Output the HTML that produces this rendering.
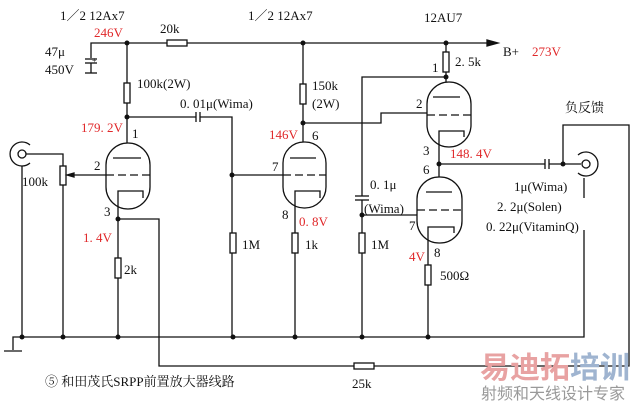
<!DOCTYPE html>
<html><head><meta charset="utf-8"><style>
html,body{margin:0;padding:0;background:#fff;}
svg{display:block}
text{font-family:"Liberation Serif","Noto Serif CJK SC",serif;font-size:13px;fill:#111}
.r{fill:#e0282a}
</style></head><body>
<svg width="635" height="402" viewBox="0 0 635 402" xmlns="http://www.w3.org/2000/svg">
<g stroke="#111" stroke-width="1.3" fill="none">
<!-- top rail -->
<polyline points="91,58 91,43 490,43"/>
<polygon points="498,43 487,40 487,46" fill="#111"/>
<line x1="85" y1="59" x2="97" y2="59"/><line x1="85" y1="63" x2="97" y2="63"/>
<line x1="91" y1="63" x2="91" y2="73"/><line x1="85" y1="73" x2="97" y2="73"/>
<rect x="167" y="40" width="20" height="6" fill="#fff"/>
<!-- tube1 anode -->
<line x1="127" y1="43" x2="127" y2="158"/>
<rect x="124" y="83" width="6" height="20" fill="#fff"/>
<polyline points="127,117 196,117"/><polyline points="200,117 232,117 232,337"/>
<line x1="196" y1="112" x2="196" y2="122"/><line x1="200" y1="112" x2="200" y2="122"/>
<rect x="106" y="143" width="44" height="66" rx="22" fill="#fff"/>
<line x1="113" y1="158" x2="141" y2="158"/>
<line x1="106" y1="175" x2="150" y2="175" stroke-dasharray="8,4"/>
<polyline points="118,219 118,191 143,191 143,198"/>
<polyline points="118,219 159,219 159,366 629,366 629,125 563,125 563,164"/>
<line x1="118" y1="219" x2="118" y2="337"/>
<rect x="115" y="258" width="6" height="20" fill="#fff"/>
<!-- input -->
<circle cx="22" cy="154" r="4"/>
<path d="M30,145 A12,12 0 1 0 30,163"/>
<polyline points="26,154 63,154 63,337"/>
<rect x="60" y="166" width="6" height="19" fill="#fff"/>
<line x1="70" y1="175" x2="106" y2="175"/>
<polygon points="67,175 74,173 74,177" fill="#111"/>
<line x1="22" y1="166" x2="22" y2="337"/>
<!-- ground -->
<polyline points="13,350 13,337 584,337 584,230"/>
<line x1="584" y1="198" x2="584" y2="178"/>
<line x1="4" y1="351" x2="22" y2="351"/>
<!-- tube2 -->
<line x1="303" y1="43" x2="303" y2="158"/>
<rect x="300" y="84" width="6" height="20" fill="#fff"/>
<polyline points="303,123 381,123 381,113 430,113"/>
<line x1="232" y1="175" x2="283" y2="175"/>
<rect x="283" y="142" width="43" height="66" rx="21" fill="#fff"/>
<line x1="290" y1="158" x2="316" y2="158"/>
<line x1="283" y1="175" x2="326" y2="175" stroke-dasharray="8,4"/>
<polyline points="295,337 295,191 320,191 320,198"/>
<rect x="230" y="233" width="6" height="20" fill="#fff"/>
<rect x="292" y="233" width="6" height="20" fill="#fff"/>
<!-- tube3 -->
<line x1="446" y1="43" x2="446" y2="97"/>
<rect x="443" y="52" width="6" height="20" fill="#fff"/>
<polyline points="446,77 362,77 362,196"/>
<line x1="355" y1="196" x2="369" y2="196"/><line x1="355" y1="200" x2="369" y2="200"/>
<polyline points="362,200 362,337"/>
<line x1="362" y1="215" x2="417" y2="215"/>
<rect x="359" y="233" width="6" height="20" fill="#fff"/>
<rect x="427" y="82" width="44" height="65" rx="22" fill="#fff"/>
<line x1="433" y1="97" x2="460" y2="97"/>
<line x1="427" y1="115" x2="471" y2="115" stroke-dasharray="8,4"/>
<polyline points="439,192 439,131 464,131 464,137"/>
<polyline points="439,164 545,164"/><polyline points="549,164 581,164"/>
<line x1="545" y1="159" x2="545" y2="169"/><line x1="549" y1="159" x2="549" y2="169"/>
<!-- tube4 -->
<rect x="417" y="177" width="45" height="66" rx="22" fill="#fff"/>
<line x1="426" y1="192" x2="452" y2="192"/>
<line x1="417" y1="210" x2="462" y2="210" stroke-dasharray="8,4"/>
<polyline points="428,337 428,227 454,227 454,233"/>
<rect x="425" y="265" width="6" height="20" fill="#fff"/>
<!-- output jack -->
<circle cx="586" cy="164" r="4"/>
<path d="M578,155 A12,12 0 1 1 578,173"/>
<!-- 25k -->
<rect x="354" y="363" width="20" height="6" fill="#fff"/>
</g>
<g fill="#111">
<circle cx="127" cy="43" r="2.5"/><circle cx="303" cy="43" r="2.5"/><circle cx="446" cy="43" r="2.5"/>
<circle cx="127" cy="117" r="2.5"/><circle cx="232" cy="175" r="2.5"/><circle cx="118" cy="219" r="2.5"/>
<circle cx="303" cy="123" r="2.5"/><circle cx="446" cy="77" r="2.5"/><circle cx="439" cy="164" r="2.5"/>
<circle cx="563" cy="164" r="2.5"/><circle cx="362" cy="215" r="2.5"/>
<circle cx="22" cy="337" r="2.5"/><circle cx="63" cy="337" r="2.5"/><circle cx="118" cy="337" r="2.5"/>
<circle cx="233" cy="337" r="2.5"/><circle cx="295" cy="337" r="2.5"/><circle cx="362" cy="337" r="2.5"/><circle cx="428" cy="337" r="2.5"/>
</g>
<text x="60" y="20">1／2 12Ax7</text>
<text x="248" y="20">1／2 12Ax7</text>
<text x="424" y="22">12AU7</text>
<text x="94" y="37" class="r">246V</text>
<text x="160" y="33">20k</text>
<text x="45" y="56">47μ</text>
<text x="45" y="74">450V</text>
<text x="92" y="63" style="font-size:8px">+</text>
<text x="137" y="88">100k(2W)</text>
<text x="180" y="108">0. 01μ(Wima)</text>
<text x="81" y="132" class="r">179. 2V</text>
<text x="132" y="138">1</text>
<text x="94" y="170">2</text>
<text x="22" y="186">100k</text>
<text x="104" y="216">3</text>
<text x="83" y="242" class="r">1. 4V</text>
<text x="124" y="274">2k</text>
<text x="312" y="90">150k</text>
<text x="312" y="108">(2W)</text>
<text x="269" y="139" class="r">146V</text>
<text x="312" y="140">6</text>
<text x="272" y="171">7</text>
<text x="282" y="219">8</text>
<text x="299" y="226" class="r">0. 8V</text>
<text x="242" y="249">1M</text>
<text x="305" y="249">1k</text>
<text x="371" y="249">1M</text>
<text x="503" y="56">B+</text>
<text x="532" y="56" class="r">273V</text>
<text x="432" y="72">1</text>
<text x="455" y="66">2. 5k</text>
<text x="416" y="108">2</text>
<text x="423" y="155">3</text>
<text x="450" y="158" class="r">148. 4V</text>
<text x="423" y="174">6</text>
<text x="565" y="112">负反馈</text>
<text x="370" y="189">0. 1μ</text>
<text x="364" y="213">(Wima)</text>
<text x="409" y="230">7</text>
<text x="409" y="261" class="r">4V</text>
<text x="434" y="257">8</text>
<text x="440" y="280">500Ω</text>
<text x="514" y="191">1μ(Wima)</text>
<text x="497" y="211">2. 2μ(Solen)</text>
<text x="486" y="231">0. 22μ(VitaminQ)</text>
<text x="45" y="386">⑤ 和田茂氏SRPP前置放大器线路</text>
<text x="352" y="388">25k</text>
<text x="480" y="378" style="font-size:30px;font-weight:bold;fill:#e8a2a2;font-family:'Noto Sans CJK SC',sans-serif">易迪拓</text>
<text x="570" y="378" style="font-size:30px;font-weight:bold;fill:#9fb4d0;font-family:'Noto Sans CJK SC',sans-serif">培训</text>
<text x="481" y="399" style="font-size:16px;fill:#999;font-family:'Noto Sans CJK SC',sans-serif">射频和天线设计专家</text>
</svg>
</body></html>
